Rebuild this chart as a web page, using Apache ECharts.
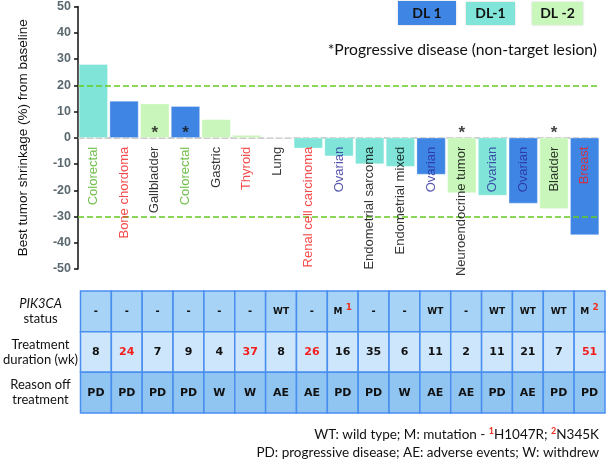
<!DOCTYPE html>
<html><head><meta charset="utf-8">
<script src="https://cdn.jsdelivr.net/npm/echarts@6/dist/echarts.min.js"></script>
<style>html,body{margin:0;padding:0;background:#fff}#c{width:610px;height:463px}</style>
</head><body><div id="c"></div>
<script>
var categories = ['Colorectal','Bone chordoma','Gallbladder','Colorectal','Gastric','Thyroid','Lung','Renal cell carcinoma','Ovarian','Endometrial sarcoma','Endometrial mixed','Ovarian','Neuroendocrine tumor','Ovarian','Ovarian','Bladder','Breast'];
var shrinkage = [28, 14, 13, 12, 7, 1, 0, -4, -7, -10, -11, -14, -21, -22, -25, -27, -37];
var doseLevel = ['DL-1','DL 1','DL -2','DL 1','DL -2','DL -2','DL -2','DL-1','DL-1','DL-1','DL-1','DL 1','DL -2','DL-1','DL 1','DL -2','DL 1'];
var labelGroup = ['green','red','black','green','black','red','black','red','blue','black','black','blue','black','blue','blue','black','red'];
var asterisk = [false,false,true,true,false,false,false,false,false,false,false,false,true,false,false,true,false];
var asteriskLevel = 3.2;
var refLines = [20, -30];
var yTicks = {min: -50, max: 50, interval: 10};
var pik3ca = ['-','-','-','-','-','-','WT','-','M1','-','-','WT','-','WT','WT','WT','M2'];
var duration = [8,24,7,9,4,37,8,26,16,35,6,11,2,11,21,7,51];
var durationHighlight = [false,true,false,false,false,true,false,true,false,false,false,false,false,false,false,false,true];
var reasonOff = ['PD','PD','PD','PD','W','W','AE','AE','PD','PD','W','AE','AE','PD','AE','PD','PD'];
var rowNames = ['PIK3CA status','Treatment duration (wk)','Reason off treatment'];
var legendItems = ['DL 1','DL-1','DL -2'];

var doseColors = {'DL 1':'#3f86e4','DL-1':'#80e5d8','DL -2':'#c9f6bb'};
var labelColors = {green:'#4fb020', red:'#f21d1d', black:'#000', blue:'#2a2b9a'};
var rowFill = ['#a6d3f6','#cde6fb','#90c5f1'];

var barData = shrinkage.map(function(v,i){ return {value:v, itemStyle:{color:doseColors[doseLevel[i]]}}; });
var astData = asterisk.map(function(a){ return a ? asteriskLevel : null; });
var nameData = categories.map(function(n,i){
  return {value:0, label:{color:labelColors[labelGroup[i]]}};
});

var cells = [];
for (var r=0;r<3;r++) for (var c=0;c<categories.length;c++) cells.push([c,r]);

function cellText(c,r){
  if (r===0){
    var v = pik3ca[c];
    if (v==='-') return '{d|-}';
    if (v.charAt(0)==='M') return '{m|M} {s|'+v.slice(1)+'}';
    return '{m|'+v+'}';
  }
  if (r===1) return '{' + (durationHighlight[c]?'nr':'n') + '|' + duration[c] + '}';
  return '{n|'+reasonOff[c]+'}';
}
var cellRich = {
  d:{fontFamily:'DejaVu Sans',fontWeight:'bold',fontSize:10,fill:'#111',color:'#111'},
  m:{fontFamily:'DejaVu Sans',fontWeight:'bold',fontSize:9,fill:'#111',color:'#111'},
  s:{fontFamily:'DejaVu Sans',fontWeight:'bold',fontSize:9,fill:'#f03020',color:'#f03020',verticalAlign:'top',padding:[0,0,8,0]},
  n:{fontFamily:'DejaVu Sans',fontWeight:'bold',fontSize:11,fill:'#111',color:'#111'},
  nr:{fontFamily:'DejaVu Sans',fontWeight:'bold',fontSize:11,fill:'#f21d1d',color:'#f21d1d'}
};

var chart = echarts.init(document.getElementById('c'));
var option = {
  animation:false,
  grid:[
    {left:78, top:5, width:522, height:264},
    {left:77, top:291, width:528, height:122}
  ],
  xAxis:[
    {gridIndex:0, type:'category', data:categories,
     axisLine:{onZero:true, lineStyle:{color:'#bbbbbb', type:'dashed', width:1.5}},
     axisTick:{show:false},
     axisLabel:{show:false}},
    {gridIndex:1, type:'category', data:categories, show:false}
  ],
  yAxis:[
    {gridIndex:0, type:'value', min:yTicks.min, max:yTicks.max, interval:yTicks.interval,
     name:'Best tumor shrinkage (%) from baseline', nameLocation:'middle', nameGap:48,
     nameTextStyle:{fontSize:13.5, fontFamily:'Liberation Sans', color:'#111'},
     axisLine:{show:true, lineStyle:{color:'#111', width:1.5}},
     axisTick:{show:true, length:4, lineStyle:{color:'#111', width:1.5}},
     splitLine:{show:false},
     axisLabel:{fontSize:12.5, fontWeight:'bold', fontFamily:'Liberation Sans', color:'#5a6870', margin:7}},
    {gridIndex:1, type:'category', data:rowNames, inverse:true,
     axisLine:{show:false}, axisTick:{show:false},
     axisLabel:{align:'center', margin:40, fontFamily:'Lato', fontSize:13, color:'#111', lineHeight:15,
       formatter:function(v,i){
         if (i===0) return '{i|PIK3CA}\n{n|status}';
         if (i===1) return '{n|Treatment}\n{n|duration (wk)}';
         return '{n|Reason off}\n{n|treatment}';
       },
       rich:{i:{fontStyle:'italic', fontFamily:'Lato', fontSize:13, color:'#111', lineHeight:15},
             n:{fontFamily:'Lato', fontSize:13, color:'#111', lineHeight:15}}}}
  ],
  series:[
    {type:'bar', xAxisIndex:0, yAxisIndex:0, data:barData, barCategoryGap:'6%',
     itemStyle:{borderColor:'rgba(255,255,255,0.6)', borderWidth:0.5},
     markLine:{silent:true, symbol:'none', label:{show:false},
       lineStyle:{color:'#66cc22', type:'dashed', width:1.5},
       data:refLines.map(function(v){ return {yAxis:v}; })}},
    {type:'scatter', xAxisIndex:0, yAxisIndex:0, data:nameData, symbolSize:0, z:5,
     label:{show:true, formatter:function(p){ return categories[p.dataIndex]; }, position:'inside',
       rotate:90, align:'right', verticalAlign:'middle', offset:[-9,0],
       fontSize:13, fontFamily:'Liberation Sans'}},
    {type:'scatter', xAxisIndex:0, yAxisIndex:0, data:astData, symbolSize:0,
     label:{show:true, formatter:'*', position:'inside', fontSize:17, fontWeight:'bold', color:'#111', offset:[0,4]}},
    {type:'custom', xAxisIndex:1, yAxisIndex:1, data:cells,
     renderItem:function(params, api){
       var c = api.value(0), r = api.value(1);
       var p = api.coord([c, r]);
       var s = api.size([1,1]);
       return {type:'group', children:[
         {type:'rect', shape:{x:p[0]-s[0]/2, y:p[1]-s[1]/2, width:s[0], height:s[1]},
          style:{fill:rowFill[r], stroke:'#4a8ff0', lineWidth:1.5}},
         {type:'text', style:{text:cellText(c, r), rich:cellRich, x:p[0], y:p[1], align:'center', verticalAlign:'middle'}}
       ]};
     }}
  ],
  graphic:[
    {type:'rect', shape:{x:398, y:1, width:58, height:24}, style:{fill:doseColors['DL 1'], shadowBlur:2, shadowColor:'rgba(0,0,0,0.2)'}},
    {type:'text', style:{text:legendItems[0], x:427, y:13, align:'center', verticalAlign:'middle', font:'bold 14px Lato', fill:'#111'}},
    {type:'rect', shape:{x:466, y:2, width:49, height:23}, style:{fill:doseColors['DL-1'], shadowBlur:2, shadowColor:'rgba(0,0,0,0.2)'}},
    {type:'text', style:{text:legendItems[1], x:490.5, y:13.5, align:'center', verticalAlign:'middle', font:'bold 14px Lato', fill:'#111'}},
    {type:'rect', shape:{x:532, y:2, width:51, height:23}, style:{fill:doseColors['DL -2'], shadowBlur:2, shadowColor:'rgba(0,0,0,0.2)'}},
    {type:'text', style:{text:legendItems[2], x:557.5, y:13.5, align:'center', verticalAlign:'middle', font:'bold 14px Lato', fill:'#111'}},
    {type:'text', style:{text:'*Progressive disease (non-target lesion)', x:597, y:50, align:'right', verticalAlign:'middle', font:'15.7px Lato', fill:'#111'}},
    {type:'text', style:{text:'{a|WT: wild type; M: mutation - }{s|1}{a|H1047R; }{s|2}{a|N345K}', x:599, y:435, align:'right', verticalAlign:'middle',
      rich:{a:{font:'13.5px Lato', fill:'#111'}, s:{font:'bold 9px Lato', fill:'#f03020', verticalAlign:'top', padding:[0,0,7,0]}}}},
    {type:'text', style:{text:'PD: progressive disease; AE: adverse events; W: withdrew', x:599, y:453, align:'right', verticalAlign:'middle', font:'13.5px Lato', fill:'#111'}}
  ]
};
chart.setOption(option);
</script></body></html>
